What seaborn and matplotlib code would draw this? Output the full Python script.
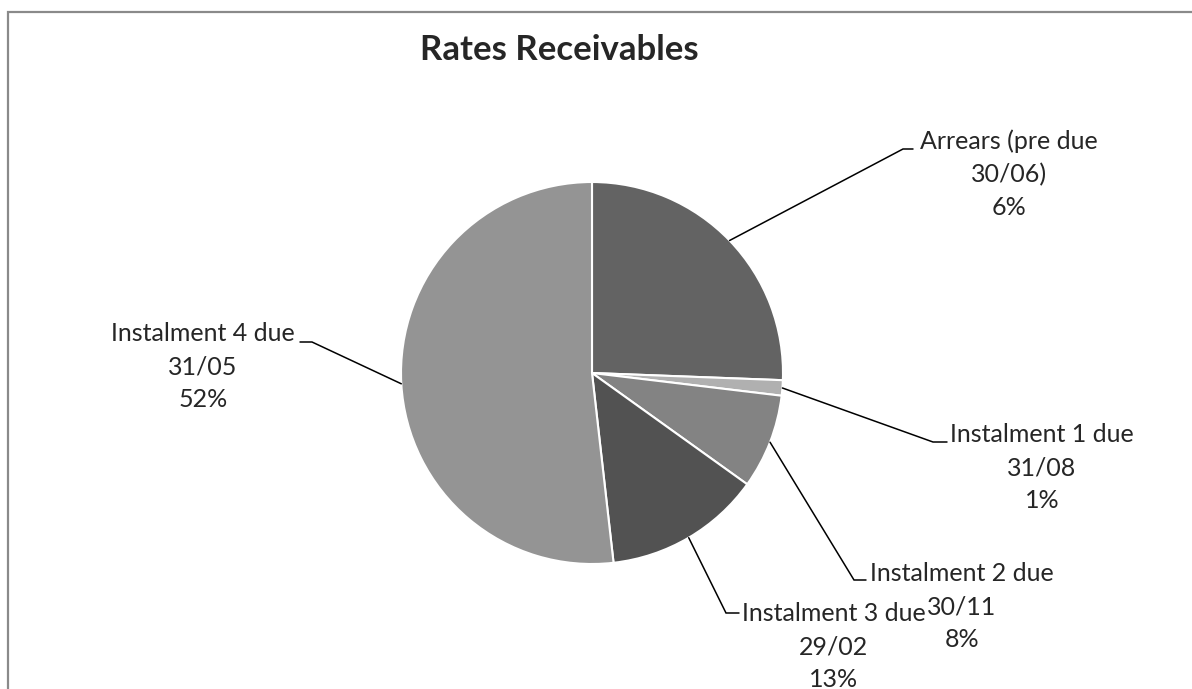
import numpy as np
import matplotlib
matplotlib.use("Agg")
import matplotlib.pyplot as plt
import seaborn as sns
from matplotlib.patches import Rectangle

# Data (wedge shares in %), labels as printed
categories = ["Arrears (pre due\n30/06)", "Instalment 1 due\n31/08", "Instalment 2 due\n30/11",
              "Instalment 3 due\n29/02", "Instalment 4 due\n31/05"]
shares = [25.6, 1.3, 8.0, 13.3, 51.8]
pct_labels = ["6%", "1%", "8%", "13%", "52%"]
colors = ["#636363", "#b0b0b0", "#838383", "#525252", "#949494"]

sns.set_style("white")
plt.rcParams["font.family"] = ["Lato", "DejaVu Sans"]

W, H = 1192, 689
fig = plt.figure(figsize=(W / 100, H / 100), dpi=100)
ax = fig.add_axes([0, 0, 1, 1])

# outer chart frame (cut off at right and bottom like the source)
fig.patches.append(Rectangle((8 / W, -0.1), 1.2, (H - 12) / H + 0.1, transform=fig.transFigure,
                             fill=False, edgecolor="#8a8a8a", linewidth=1.6))

cx, cy, r = 592, H - 373, 191
wedges, _ = ax.pie(shares, colors=colors, startangle=90, counterclock=False,
                   center=(cx, cy), radius=r, frame=True,
                   wedgeprops=dict(edgecolor="white", linewidth=1.5))
ax.set_xlim(0, W)
ax.set_ylim(0, H)
ax.set_aspect("equal")
ax.axis("off")

ax.text(559, H - 60, "Rates Receivables", ha="center", va="baseline",
        fontsize=25, fontweight="bold")

# label layout in pixels: (elbow x, elbow y, end x, text centre x, last baseline y)
layout = [
    (903, 149, 913, 1009, 215),
    (933, 442, 947, 1042, 508),
    (854, 580, 866, 962, 647),
    (726, 613, 739, 834, 687),
    (312, 342, 300, 203, 407),
]

for w, cat, pct, (ex, ey, hx, tx, ty) in zip(wedges, categories, pct_labels, layout):
    mid = np.deg2rad((w.theta1 + w.theta2) / 2)
    px, py = cx + r * np.cos(mid), cy + r * np.sin(mid)
    ax.plot([px, ex, hx], [py, H - ey, H - ey], color="black", linewidth=1.1,
            solid_joinstyle="miter")
    ax.text(tx, H - ty, cat + "\n" + pct, ha="center", va="baseline",
            multialignment="center", fontsize=18, linespacing=1.52)

fig.savefig("out.png", dpi=100)
